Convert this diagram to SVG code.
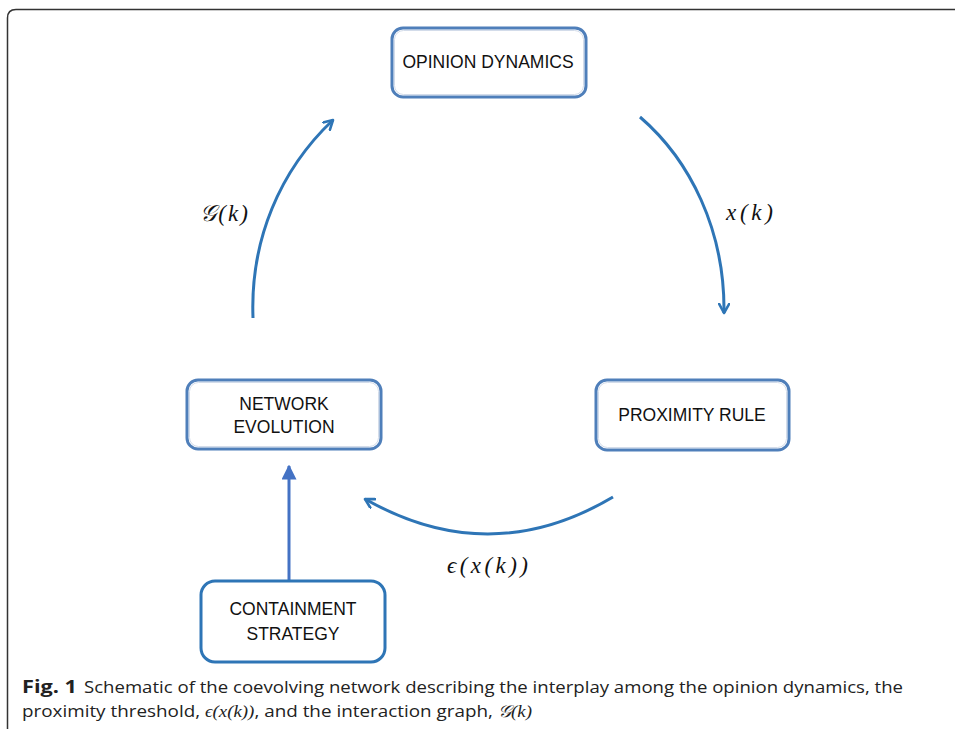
<svg xmlns="http://www.w3.org/2000/svg" width="955" height="729" viewBox="0 0 955 729">
<style>
.box{fill:#fff;stroke:#4f7fba;stroke-width:3}
.inner{fill:none;stroke:#d3dcea;stroke-width:1}
.box2{fill:#fff;stroke:#2e75b6;stroke-width:3}
.lbl{font-family:"Liberation Sans",Arial,sans-serif;font-size:17.5px;fill:#111;text-anchor:middle}
.math{font-family:"Liberation Serif","DejaVu Serif",serif;font-style:italic;font-size:23px;fill:#111}
.arc{fill:none;stroke:#2e75b6;stroke-width:3}
.cap{font-family:"Open Sans","Noto Sans",sans-serif;font-size:17px;fill:#222}
</style>
<defs>
<marker id="chev" viewBox="0 0 12 12" refX="10" refY="6" markerWidth="12" markerHeight="12" markerUnits="userSpaceOnUse" orient="auto">
<path d="M1,1 L10,6 L1,11" fill="none" stroke="#2e75b6" stroke-width="2.6" stroke-linecap="round" stroke-linejoin="round"/>
</marker>
<marker id="tri" viewBox="0 0 10 10" refX="9" refY="5" markerWidth="15" markerHeight="15" markerUnits="userSpaceOnUse" orient="auto">
<path d="M0,0 L10,5 L0,10 Z" fill="#4472c4"/>
</marker>
</defs>
<rect width="955" height="729" fill="#fff"/>
<path d="M7.5,729 V18 Q7.5,9.5 16,9.5 H960" fill="none" stroke="#333" stroke-width="1.5"/>
<g id="connectors">
<path class="arc" d="M253,318 C250,240 280,170 333,120" marker-end="url(#chev)"/>
<path class="arc" d="M640,117 C690,160 725,230 724,313" marker-end="url(#chev)"/>
<path class="arc" d="M613,497 Q490,570 365,499" marker-end="url(#chev)"/>
<path d="M289,580 V466" stroke="#4472c4" stroke-width="3" fill="none" marker-end="url(#tri)"/>
<text class="math" x="200" y="221" textLength="48" lengthAdjust="spacing">𝒢(k)</text>
<text class="math" x="726" y="220" textLength="47" lengthAdjust="spacing">x(k)</text>
<text class="math" x="447" y="573" textLength="81" lengthAdjust="spacing">ϵ(x(k))</text>
</g>
<g id="opinion-dynamics">
<rect class="box" x="392" y="28" width="194" height="69" rx="11"/>
<rect class="inner" x="394.5" y="30.5" width="189" height="64" rx="9"/>
<text class="lbl" x="488" y="68">OPINION DYNAMICS</text>
</g>
<g id="network-evolution">
<rect class="box" x="187" y="380" width="194" height="69" rx="11"/>
<rect class="inner" x="189.5" y="382.5" width="189" height="64" rx="9"/>
<text class="lbl" x="284" y="410">NETWORK</text>
<text class="lbl" x="284" y="433">EVOLUTION</text>
</g>
<g id="proximity-rule">
<rect class="box" x="596" y="380" width="193" height="70" rx="11"/>
<rect class="inner" x="598.5" y="382.5" width="188" height="65" rx="9"/>
<text class="lbl" x="692" y="421">PROXIMITY RULE</text>
</g>
<g id="containment-strategy">
<rect class="box2" x="201" y="581" width="184" height="81" rx="14"/>
<text class="lbl" x="293" y="615">CONTAINMENT</text>
<text class="lbl" x="293" y="640">STRATEGY</text>
</g>
<g id="caption">
<text class="cap" x="22" y="693" font-size="18" font-weight="bold" textLength="55" lengthAdjust="spacingAndGlyphs">Fig. 1</text>
<text class="cap" x="84" y="693" textLength="819" lengthAdjust="spacingAndGlyphs">Schematic of the coevolving network describing the interplay among the opinion dynamics, the</text>
<text class="cap" x="22" y="717" textLength="510" lengthAdjust="spacingAndGlyphs">proximity threshold, <tspan font-family="Liberation Serif,serif" font-style="italic">ϵ(x(k))</tspan>, and the interaction graph, <tspan font-family="Liberation Serif,serif" font-style="italic">𝒢(k)</tspan></text>
</g>
</svg>
